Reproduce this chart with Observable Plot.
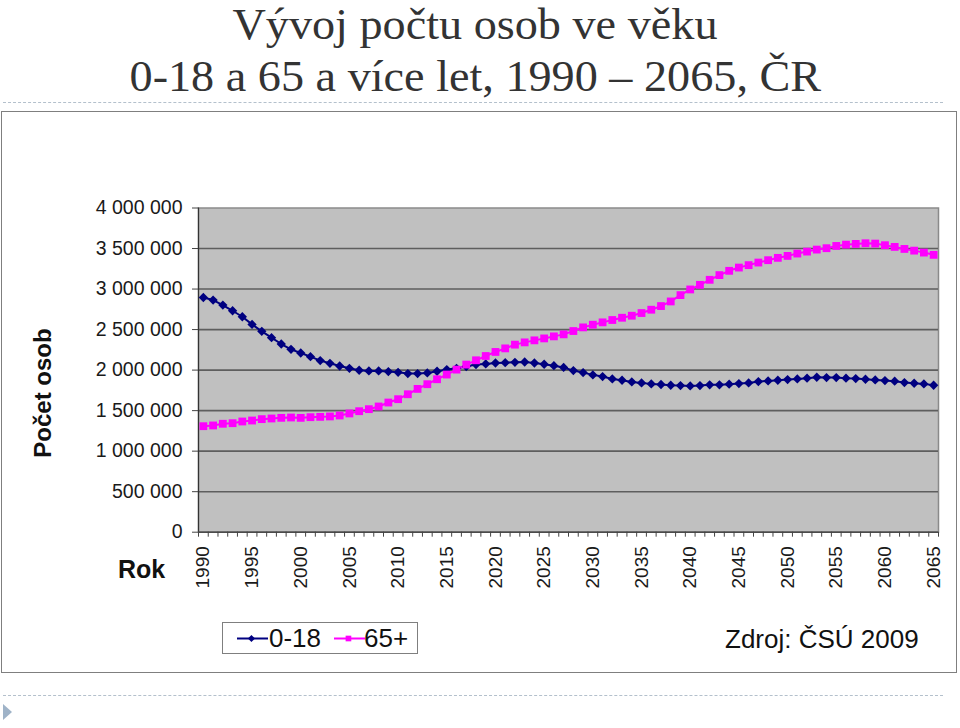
<!DOCTYPE html>
<html>
<head>
<meta charset="utf-8">
<script src="https://cdn.jsdelivr.net/npm/d3@7"></script>
<script src="https://cdn.jsdelivr.net/npm/@observablehq/plot@0.6"></script>
<style>
  html, body { margin: 0; padding: 0; background: #fff; }
  #page { position: relative; width: 960px; height: 728px; overflow: hidden; font-family: "Liberation Sans", Arial, sans-serif; }
  .abs { position: absolute; }
  .tl { left: 0; width: 950px; text-align: center; font-family: "Liberation Serif", "Times New Roman", serif; font-size: 44px; line-height: 44px; color: #333; white-space: nowrap; }
  .tl span { display: inline-block; transform: scaleX(1.05); }
  .dash { left: 3px; width: 940px; height: 0; border-top: 1px dashed #b4c0cc; }
  #box { left: 1px; top: 111px; width: 956px; height: 562px; border: 1px solid #7f7f7f; box-sizing: border-box; }
  #ylab { left: 43px; top: 393px; transform: translate(-50%, -50%) rotate(-90deg); font-weight: bold; font-size: 24px; white-space: nowrap; color: #111; }
  #rok { left: 118px; top: 555px; font-weight: bold; font-size: 25px; color: #111; }
  #legend { left: 222px; top: 622px; width: 196px; height: 32px; border: 1px solid #7f7f7f; box-sizing: border-box; background: #fff; }
  .lt { font-family: "Liberation Sans", Arial, sans-serif; font-size: 26px; color: #111; line-height: 30px; }
  #src { left: 725px; top: 624px; }
  #tri { left: 3px; top: 704px; width: 0; height: 0; border-top: 8px solid transparent; border-bottom: 8px solid transparent; border-left: 9px solid #9fb3c8; }
  #chart { left: 0; top: 111px; }
</style>
</head>
<body>
<div id="page">
  <div class="abs tl" style="top:2.5px"><span>Vývoj počtu osob ve věku</span></div>
  <div class="abs tl" style="top:55px"><span>0-18 a 65 a více let, 1990 – 2065, ČR</span></div>
  <div class="abs dash" style="top:102px"></div>
  <div id="box" class="abs"></div>
  <div id="chart" class="abs"></div>
  <div id="ylab" class="abs">Počet osob</div>
  <div id="rok" class="abs">Rok</div>
  <div id="legend" class="abs"></div>
  <div id="src" class="abs lt">Zdroj: ČSÚ 2009</div>
  <div class="abs dash" style="top:695px"></div>
  <div id="tri" class="abs"></div>
</div>
<script>
const years = [1990,1991,1992,1993,1994,1995,1996,1997,1998,1999,
  2000,2001,2002,2003,2004,2005,2006,2007,2008,2009,
  2010,2011,2012,2013,2014,2015,2016,2017,2018,2019,
  2020,2021,2022,2023,2024,2025,2026,2027,2028,2029,
  2030,2031,2032,2033,2034,2035,2036,2037,2038,2039,
  2040,2041,2042,2043,2044,2045,2046,2047,2048,2049,
  2050,2051,2052,2053,2054,2055,2056,2057,2058,2059,
  2060,2061,2062,2063,2064,2065];

// 0-18
const age0_18 = [2896000,2864000,2802000,2732000,2658000,2564000,2478000,2400000,2322000,2256000,
  2211000,2166000,2117000,2084000,2051000,2022000,1998000,1990000,1990000,1982000,
  1973000,1957000,1957000,1965000,1986000,2006000,2022000,2043000,2068000,2076000,
  2088000,2092000,2096000,2100000,2088000,2072000,2055000,2033000,1994000,1969000,
  1941000,1920000,1891000,1875000,1854000,1842000,1830000,1822000,1813000,1809000,
  1805000,1809000,1818000,1818000,1826000,1834000,1842000,1858000,1867000,1875000,
  1883000,1891000,1900000,1912000,1908000,1908000,1900000,1895000,1887000,1879000,
  1871000,1863000,1846000,1838000,1830000,1813000];

// 65+
const age65 = [1308000,1317000,1338000,1345000,1366000,1378000,1395000,1403000,1411000,1415000,
  1411000,1419000,1423000,1428000,1440000,1465000,1493000,1518000,1551000,1600000,
  1641000,1702000,1768000,1826000,1887000,1945000,2006000,2068000,2121000,2174000,
  2224000,2268000,2314000,2342000,2367000,2391000,2416000,2441000,2482000,2527000,
  2560000,2589000,2618000,2646000,2671000,2704000,2745000,2790000,2847000,2925000,
  2995000,3052000,3114000,3172000,3225000,3265000,3295000,3327000,3356000,3385000,
  3409000,3438000,3462000,3487000,3504000,3532000,3548000,3557000,3565000,3561000,
  3541000,3520000,3495000,3474000,3450000,3422000];

const seriesNames = ["0-18", "65+"];
const seriesColors = ["#000080", "#ff00ff"];
const yTicks = [0,500000,1000000,1500000,2000000,2500000,3000000,3500000,4000000];
const xTickYears = [1990,1995,2000,2005,2010,2015,2020,2025,2030,2035,2040,2045,2050,2055,2060,2065];

const locale = d3.formatLocale({decimal: ",", thousands: " ", grouping: [3], currency: ["", ""]});
const fmt = locale.format(",");

const kids = years.map((y, i) => ({year: y, value: age0_18[i], s: seriesNames[0]}));
const olds = years.map((y, i) => ({year: y, value: age65[i], s: seriesNames[1]}));
const boundaries = years.map(y => y - 0.5).concat([years[years.length - 1] + 0.5]);

const chart = Plot.plot({
  width: 958,
  height: 480,
  marginLeft: 198,
  marginRight: 20,
  marginTop: 96.5,
  marginBottom: 59.3,
  style: {background: "transparent", fontFamily: "'Liberation Sans', Arial, sans-serif", color: "#1a1a1a", overflow: "visible"},
  x: {domain: [years[0] - 0.5, years[years.length - 1] + 0.5]},
  y: {domain: [0, 4000000]},
  color: {domain: seriesNames, range: seriesColors},
  marks: [
    Plot.frame({fill: "#c0c0c0", stroke: "#8a8a8a", strokeWidth: 1.5}),
    Plot.ruleY(yTicks.slice(1, -1), {stroke: "#5e5e5e", strokeWidth: 1.6}),
    Plot.axisY({ticks: yTicks, tickFormat: fmt, tickSize: 6, tickPadding: 10, fontSize: 19.5, stroke: "#444", label: null}),
    Plot.ruleX([years[0] - 0.5], {stroke: "#333", strokeWidth: 1.2}),
    Plot.ruleY([0], {stroke: "#333", strokeWidth: 1.2}),
    Plot.axisX({ticks: boundaries, tickFormat: () => "", tickSize: 5, stroke: "#444", label: null}),
    Plot.axisX({ticks: xTickYears, tickFormat: d => String(d), tickSize: 0, tickPadding: 14, tickRotate: -90, fontSize: 19, label: null}),
    Plot.line(kids, {x: "year", y: "value", stroke: "s", strokeWidth: 2}),
    Plot.line(olds, {x: "year", y: "value", stroke: "s", strokeWidth: 2}),
    Plot.dot(kids, {x: "year", y: "value", fill: "s", symbol: "diamond2", r: 4.2}),
    Plot.dot(olds, {x: "year", y: "value", fill: "s", symbol: "square", r: 4.4})
  ]
});
document.getElementById("chart").appendChild(chart);

// Legend (swatches drawn with Plot from the same series names & colours)
const legendItems = [
  {name: seriesNames[0], color: seriesColors[0], symbol: "diamond2", x0: 14, text: 46},
  {name: seriesNames[1], color: seriesColors[1], symbol: "square", x0: 111, text: 141}
];
const legend = document.getElementById("legend");
legendItems.forEach(it => {
  const sw = Plot.plot({
    width: 31, height: 20, margin: 0,
    x: {domain: [0, 1], axis: null}, y: {domain: [0, 1], axis: null},
    style: {background: "transparent"},
    marks: [
      Plot.ruleY([0.5], {x1: 0, x2: 1, stroke: it.color, strokeWidth: 2}),
      Plot.dot([{x: 0.45, y: 0.5}], {x: "x", y: "y", fill: it.color, symbol: it.symbol, r: 3.2})
    ]
  });
  sw.style.position = "absolute";
  sw.style.left = it.x0 + "px";
  sw.style.top = "5px";
  legend.appendChild(sw);
  const t = document.createElement("div");
  t.className = "lt";
  t.style.position = "absolute";
  t.style.left = it.text + "px";
  t.style.top = "0px";
  t.textContent = it.name;
  legend.appendChild(t);
});
</script>
</body>
</html>
